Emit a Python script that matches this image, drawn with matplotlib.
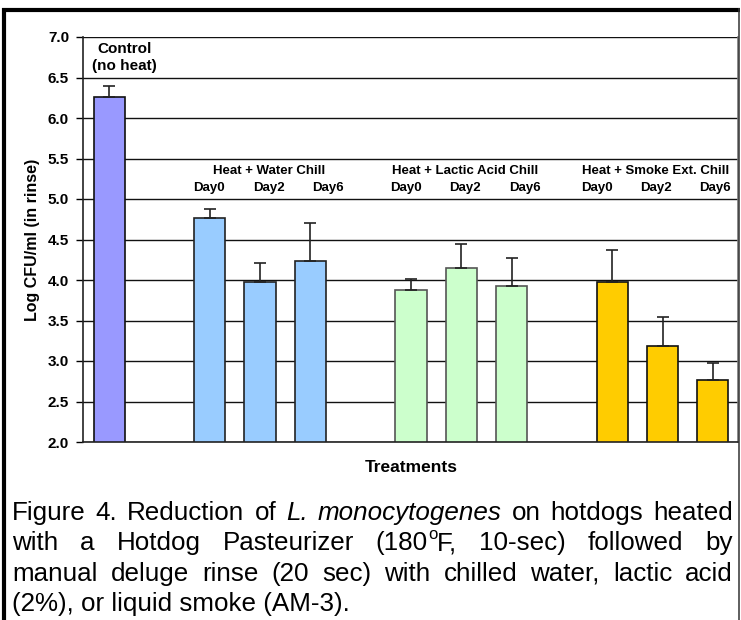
import matplotlib
matplotlib.use('Agg')
import matplotlib.pyplot as plt
from matplotlib.lines import Line2D

plt.rcParams['font.family'] = ['Liberation Sans', 'DejaVu Sans']

# ---------------- data ----------------
control_label = ['Control', '(no heat)']
control_value = 6.26
control_err = 0.13

group_labels = ['Heat + Water Chill', 'Heat + Lactic Acid Chill', 'Heat + Smoke Ext. Chill']
day_labels = ['Day0', 'Day2', 'Day6']
water_values = [4.76, 3.97, 4.23]
water_err = [0.12, 0.24, 0.47]
lactic_values = [3.88, 4.15, 3.93]
lactic_err = [0.13, 0.29, 0.34]
smoke_values = [3.97, 3.19, 2.77]
smoke_err = [0.40, 0.35, 0.20]

y_ticks = [2.0, 2.5, 3.0, 3.5, 4.0, 4.5, 5.0, 5.5, 6.0, 6.5, 7.0]
y_label = 'Log CFU/ml (in rinse)'
x_label = 'Treatments'

# ---------------- figure ----------------
W, H = 741, 620
fig = plt.figure(figsize=(W / 100, H / 100), dpi=100)


def fx(x):
    return x / W


def fy(y):
    return 1 - y / H


ax_l, ax_r, ax_t, ax_b = 83, 738, 37, 442
ax = fig.add_axes([fx(ax_l), fy(ax_b), fx(ax_r - ax_l), (ax_b - ax_t) / H])

colors = ['#9999FF', '#99CCFF', '#CCFFCC', '#FFCC00']
edges = ['#111111', '#222222', '#555555', '#111111']
bw = 0.62
label_shift = [0.17, 0.08, -0.13]   # horizontal placement of group/day labels (layout)

# control bar
ax.bar([0], [control_value], width=bw, color=colors[0], edgecolor=edges[0], linewidth=1.2, zorder=2)
ax.errorbar([0], [control_value], yerr=[[0], [control_err]], fmt='none', ecolor='#222222',
            elinewidth=1.2, capsize=4, capthick=1.2, zorder=3)

series = [(water_values, water_err), (lactic_values, lactic_err), (smoke_values, smoke_err)]
for g, (vals, errs) in enumerate(series):
    xs = [2 + 4 * g + k for k in range(len(vals))]
    ax.bar(xs, vals, width=bw, color=colors[g + 1], edgecolor=edges[g + 1], linewidth=1.2, zorder=2)
    ax.errorbar(xs, vals, yerr=[[0] * len(errs), errs], fmt='none', ecolor='#222222',
                elinewidth=1.2, capsize=4, capthick=1.2, zorder=3)
    center = 2 + 4 * g + 1 + label_shift[g]
    ax.text(center, 5.35, group_labels[g], ha='center', va='center',
            fontsize=9.5, fontweight='bold')
    for k, d in enumerate(day_labels):
        ax.text(center + (k - 1) * 1.18, 5.14, d, ha='center', va='center',
                fontsize=9.5, fontweight='bold')

ax.text(0.3, 6.85, control_label[0], ha='center', va='center', fontsize=11, fontweight='bold')
ax.text(0.3, 6.64, control_label[1], ha='center', va='center', fontsize=11, fontweight='bold')

ax.set_xlim(-0.52, 12.5)
ax.set_ylim(2.0, 7.0)
ax.set_yticks(y_ticks)
ax.set_yticklabels([f'{t:.1f}' for t in y_ticks])
for lab in ax.get_yticklabels():
    lab.set_fontweight('bold')
ax.tick_params(axis='y', labelsize=11, length=5, width=1, pad=5, direction='out')
ax.set_xticks([])
ax.set_axisbelow(True)
ax.yaxis.grid(True, color='#111111', linewidth=1)
for side in ['left', 'bottom']:
    ax.spines[side].set_color('#222222')
    ax.spines[side].set_linewidth(1.2)
ax.spines['top'].set_visible(False)
ax.spines['right'].set_color('#777777')
ax.spines['right'].set_linewidth(1.2)

fig.text(fx(33), fy(240), y_label, rotation=90, ha='center', va='center',
         fontsize=11.5, fontweight='bold')
fig.text(fx(411), fy(467), x_label, ha='center', va='center', fontsize=12.5, fontweight='bold')

# ---------------- frame ----------------
fig.add_artist(Line2D([fx(4), fx(4)], [fy(8), fy(625)], color='black', linewidth=3.0,
                      transform=fig.transFigure, solid_capstyle='butt'))
fig.add_artist(Line2D([fx(2), fx(740)], [fy(10), fy(10)], color='black', linewidth=3.0,
                      transform=fig.transFigure, solid_capstyle='butt'))
fig.add_artist(Line2D([fx(739.3), fx(739.3)], [fy(8), fy(625)], color='#333333', linewidth=1.1,
                      transform=fig.transFigure, solid_capstyle='butt'))

# ---------------- caption (justified) ----------------
cap_size = 18.7
renderer = fig.canvas.get_renderer()

cap_lines = [
    [[('Figure', 'normal')], [('4.', 'normal')], [('Reduction', 'normal')], [('of', 'normal')],
     [('L.', 'italic')], [('monocytogenes', 'italic')], [('on', 'normal')], [('hotdogs', 'normal')],
     [('heated', 'normal')]],
    [[('with', 'normal')], [('a', 'normal')], [('Hotdog', 'normal')], [('Pasteurizer', 'normal')],
     [('(180', 'normal'), ('o', 'sup'), ('F,', 'normal')], [('10-sec)', 'normal')],
     [('followed', 'normal')], [('by', 'normal')]],
    [[('manual', 'normal')], [('deluge', 'normal')], [('rinse', 'normal')], [('(20', 'normal')],
     [('sec)', 'normal')], [('with', 'normal')], [('chilled', 'normal')], [('water,', 'normal')],
     [('lactic', 'normal')], [('acid', 'normal')]],
]
last_line = '(2%), or liquid smoke (AM-3).'
baselines = [520, 550, 581, 611]
x_left, x_right = 12, 733


def make_seg(text, style):
    if style == 'sup':
        t = fig.text(0, 0, text, fontsize=12, va='baseline', ha='left')
    else:
        t = fig.text(0, 0, text, fontsize=cap_size, style=style, va='baseline', ha='left')
    return t


for li, words in enumerate(cap_lines):
    word_objs = []
    widths = []
    for w in words:
        segs = []
        wsum = 0
        for text, style in w:
            t = make_seg(text, style)
            bb = t.get_window_extent(renderer)
            segs.append((t, style, bb.width))
            wsum += bb.width
        word_objs.append(segs)
        widths.append(wsum)
    gap = (x_right - x_left - sum(widths)) / (len(words) - 1)
    x = x_left
    for segs, wsum in zip(word_objs, widths):
        xx = x
        for t, style, w in segs:
            dy = 11 if style == 'sup' else 0
            t.set_position((fx(xx), fy(baselines[li] - dy)))
            xx += w
        x += wsum + gap

fig.text(fx(x_left), fy(baselines[3]), last_line, fontsize=cap_size, va='baseline', ha='left')

fig.savefig('out.png', dpi=100)
